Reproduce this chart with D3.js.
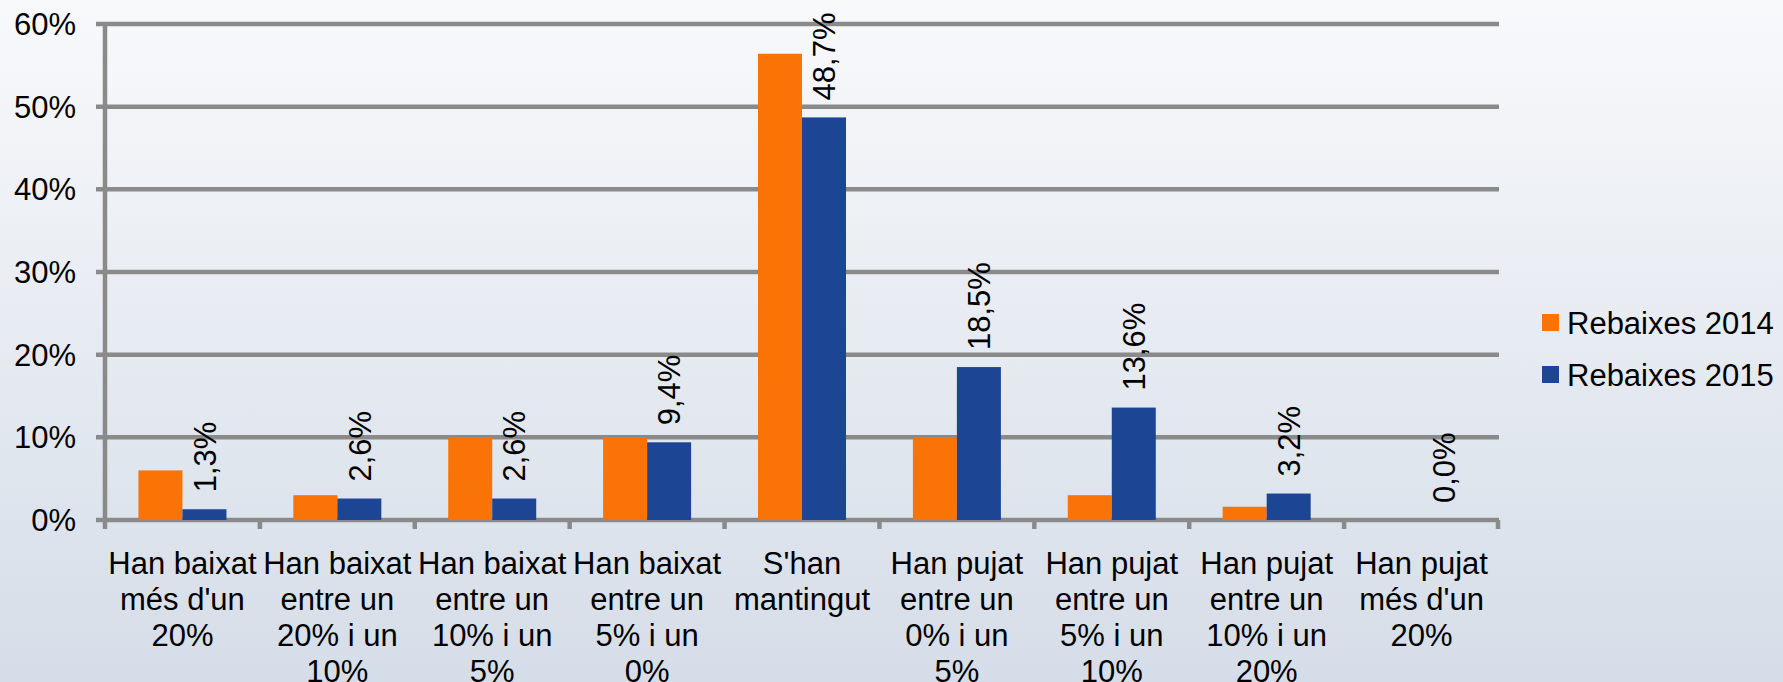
<!DOCTYPE html>
<html>
<head>
    <meta charset="utf-8">
    <title>Rebaixes 2014 / 2015</title>
    <script src="https://d3js.org/d3.v7.min.js"></script>
    <style>
        body { margin: 0; }
        svg { display: block; font-family: "Liberation Sans", Arial, sans-serif; }
    </style>
</head>
<body>

<svg id="chart" width="1783" height="682"></svg>

<script>
    // dades
    var categories = [
        "Han baixat més d'un 20%",
        "Han baixat entre un 20% i un 10%",
        "Han baixat entre un 10% i un 5%",
        "Han baixat entre un 5% i un 0%",
        "S'han mantingut",
        "Han pujat entre un 0% i un 5%",
        "Han pujat entre un 5% i un 10%",
        "Han pujat entre un 10% i un 20%",
        "Han pujat més d'un 20%"
    ];
    var series = ["Rebaixes 2014", "Rebaixes 2015"];
    var values2014 = [6.0, 3.0, 10.0, 10.0, 56.4, 10.0, 3.0, 1.6, 0.0];
    var values2015 = [1.3, 2.6, 2.6, 9.4, 48.7, 18.5, 13.6, 3.2, 0.0];
    var yTicks = [0, 10, 20, 30, 40, 50, 60];
    var colors = ["#f97306", "#1c4594"];

    var svg = d3.select("#chart");
    var W = 1783, H = 682;
    var plotLeft = 105, plotRight = 1499, plotTop = 24, plotBottom = 520;
    var gridColor = "#8a8a8a";
    var fontSize = 31;

    // fons
    var grad = svg.append("defs").append("linearGradient")
        .attr("id", "bg").attr("x1", 0).attr("y1", 0).attr("x2", 0).attr("y2", 1);
    grad.append("stop").attr("offset", "0%").attr("stop-color", "#f8f9fb");
    grad.append("stop").attr("offset", "100%").attr("stop-color", "#d5dde8");
    svg.append("rect").attr("width", W).attr("height", H).attr("fill", "url(#bg)");

    var x = d3.scaleBand().domain(categories).range([plotLeft, plotRight]).padding(0);
    var xs = d3.scaleBand().domain(series).range([0, x.bandwidth()])
        .paddingInner(0).paddingOuter(0.76);
    var y = d3.scaleLinear().domain([0, 60]).range([plotBottom, plotTop]);

    // línies de quadrícula
    svg.append("g").selectAll("line")
        .data(yTicks)
        .enter().append("line")
        .attr("x1", plotLeft - 9).attr("x2", plotRight)
        .attr("y1", function(d) { return y(d); })
        .attr("y2", function(d) { return y(d); })
        .style("stroke", gridColor)
        .style("stroke-width", 4.5);

    // eix Y
    svg.append("line")
        .attr("x1", plotLeft).attr("x2", plotLeft)
        .attr("y1", plotTop).attr("y2", plotBottom + 9)
        .style("stroke", gridColor).style("stroke-width", 4.5);

    svg.append("g").selectAll("text")
        .data(yTicks)
        .enter().append("text")
        .attr("x", 76)
        .attr("y", function(d) { return y(d); })
        .attr("dy", "0.36em")
        .attr("text-anchor", "end")
        .style("font-size", fontSize + "px")
        .text(function(d) { return d + "%"; });

    // marques de l'eix X
    var bounds = categories.map(function(c) { return x(c); }).concat([plotRight - 1]);
    svg.append("g").selectAll("line")
        .data(bounds.slice(1))
        .enter().append("line")
        .attr("x1", function(d) { return d; })
        .attr("x2", function(d) { return d; })
        .attr("y1", plotBottom).attr("y2", plotBottom + 9)
        .style("stroke", gridColor).style("stroke-width", 4.5);

    // barres
    var rows = categories.map(function(c, i) {
        return { cat: c, vals: [values2014[i], values2015[i]] };
    });

    var groups = svg.append("g").selectAll("g")
        .data(rows)
        .enter().append("g")
        .attr("transform", function(d) { return "translate(" + x(d.cat) + ",0)"; });

    groups.selectAll("rect")
        .data(function(d) { return d.vals.map(function(v, k) { return { s: series[k], v: v, k: k }; }); })
        .enter().append("rect")
        .attr("x", function(d) { return xs(d.s); })
        .attr("width", xs.bandwidth())
        .attr("y", function(d) { return y(d.v); })
        .attr("height", function(d) { return plotBottom - y(d.v); })
        .style("fill", function(d) { return colors[d.k]; });

    // etiquetes 2015
    groups.append("text")
        .attr("transform", function(d) {
            var cx = xs(series[1]) + xs.bandwidth() / 2;
            return "translate(" + cx + "," + (y(d.vals[1]) - 17) + ") rotate(-90)";
        })
        .attr("dy", "0.36em")
        .style("font-size", fontSize + "px")
        .text(function(d) { return d.vals[1].toFixed(1).replace(".", ",") + "%"; });

    // etiquetes de categoria
    function wrap(textSel, width) {
        textSel.each(function() {
            var text = d3.select(this);
            var words = text.text().split(/\s+/);
            var cx = text.attr("x");
            text.text(null);
            var line = [];
            var tspan = text.append("tspan").attr("x", cx).attr("dy", 0);
            words.forEach(function(w) {
                line.push(w);
                tspan.text(line.join(" "));
                if (tspan.node().getComputedTextLength() > width && line.length > 1) {
                    line.pop();
                    tspan.text(line.join(" "));
                    line = [w];
                    tspan = text.append("tspan").attr("x", cx).attr("dy", "1.16em").text(w);
                }
            });
        });
    }

    svg.append("g").selectAll("text")
        .data(categories)
        .enter().append("text")
        .attr("x", function(d) { return x(d) + x.bandwidth() / 2; })
        .attr("y", 574)
        .attr("text-anchor", "middle")
        .style("font-size", fontSize + "px")
        .text(function(d) { return d; })
        .call(wrap, x.bandwidth() - 2);

    // llegenda
    var legend = svg.append("g").selectAll("g")
        .data(series)
        .enter().append("g")
        .attr("transform", function(d, i) { return "translate(1542," + (314 + i * 52) + ")"; });

    legend.append("rect")
        .attr("width", 17).attr("height", 17)
        .style("fill", function(d, i) { return colors[i]; });

    legend.append("text")
        .attr("x", 25).attr("y", 8.5)
        .attr("dy", "0.36em")
        .style("font-size", fontSize + "px")
        .text(function(d) { return d; });

</script>
</body>
</html>
